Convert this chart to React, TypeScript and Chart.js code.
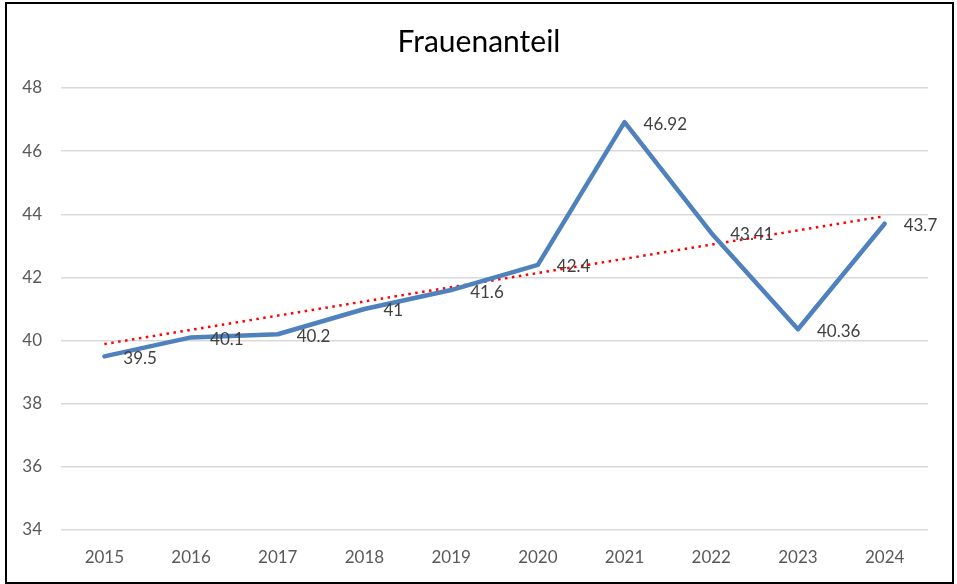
import { useEffect, useRef } from 'react';
import { Chart, registerables } from 'chart.js';

Chart.register(...registerables);

const years = ['2015', '2016', '2017', '2018', '2019', '2020', '2021', '2022', '2023', '2024'];
const womenShare = [39.5, 40.1, 40.2, 41, 41.6, 42.4, 46.92, 43.41, 40.36, 43.7];
const trendYears = ['2015', '2024'];
const trendValues = [39.89, 43.94];
const yTicks = [34, 36, 38, 40, 42, 44, 46, 48];
const chartTitle = 'Frauenanteil';

const FONT = 'Lato, "Open Sans", sans-serif';

// labels to the right of each point, like Excel's "right" label position
const pointLabels = {
  id: 'pointLabels',
  afterDatasetsDraw(chart: Chart) {
    const { ctx } = chart;
    const meta = chart.getDatasetMeta(0);
    ctx.save();
    ctx.font = `17px ${FONT}`;
    ctx.fillStyle = '#404040';
    ctx.textAlign = 'left';
    ctx.textBaseline = 'middle';
    meta.data.forEach((pt, i) => {
      ctx.fillText(String(womenShare[i]), pt.x + 19, pt.y + 2);
    });
    ctx.restore();
  },
};

// title centred on the whole canvas, not on the padded layout
const centerTitle = {
  id: 'centerTitle',
  afterDraw(chart: Chart) {
    const { ctx } = chart;
    ctx.save();
    ctx.font = `30px ${FONT}`;
    ctx.fillStyle = '#000000';
    ctx.textAlign = 'center';
    ctx.textBaseline = 'middle';
    ctx.fillText(chartTitle, chart.width / 2 + 1, 38);
    ctx.restore();
  },
};

export default function App() {
  const ref = useRef<HTMLCanvasElement>(null);
  const chartRef = useRef<Chart | null>(null);

  useEffect(() => {
    if (!ref.current) return;
    chartRef.current?.destroy();
    chartRef.current = new Chart(ref.current, {
      type: 'line',
      data: {
        labels: years,
        datasets: [
          {
            label: 'Frauenanteil',
            data: womenShare,
            borderColor: '#4F81BD',
            borderWidth: 4.5,
            borderJoinStyle: 'round',
            borderCapStyle: 'round',
            pointRadius: 0,
            tension: 0,
          },
          {
            label: 'Trend',
            data: trendYears.map((y, i) => ({ x: y, y: trendValues[i] })),
            borderColor: '#FF0000',
            borderWidth: 2.5,
            borderDash: [2.5, 4.5],
            pointRadius: 0,
            tension: 0,
          },
        ],
      },
      options: {
        animation: false,
        responsive: false,
        maintainAspectRatio: false,
        layout: { padding: { left: 0, right: 25, top: 84, bottom: 0 } },
        plugins: {
          legend: { display: false },
          tooltip: { enabled: false },
          title: { display: false },
        },
        scales: {
          x: {
            offset: true,
            afterFit: (s) => { s.height = 50; },
            grid: { display: false, drawTicks: false },
            border: { display: false },
            ticks: { color: '#595959', font: { family: FONT, size: 17 }, padding: 17 },
          },
          y: {
            min: 34,
            max: 48,
            afterFit: (s) => { s.width = 58; },
            afterBuildTicks: (s) => { s.ticks = yTicks.map((v) => ({ value: v })); },
            grid: { color: '#D9D9D9', lineWidth: 1.5, drawTicks: false },
            border: { display: false },
            ticks: { color: '#595959', font: { family: FONT, size: 17 }, padding: 19 },
          },
        },
      },
      plugins: [pointLabels, centerTitle],
    });
    return () => { chartRef.current?.destroy(); };
  }, []);

  return (
    <div style={{ position: 'absolute', left: 0, top: 0, width: 957, height: 584, background: '#fff' }}>
      <div style={{ position: 'absolute', left: 5, top: 2, width: 945, height: 578, border: '2.5px solid #000' }} />
      <canvas ref={ref} width={950} height={576} style={{ position: 'absolute', left: 3, top: 4 }} />
    </div>
  );
}
